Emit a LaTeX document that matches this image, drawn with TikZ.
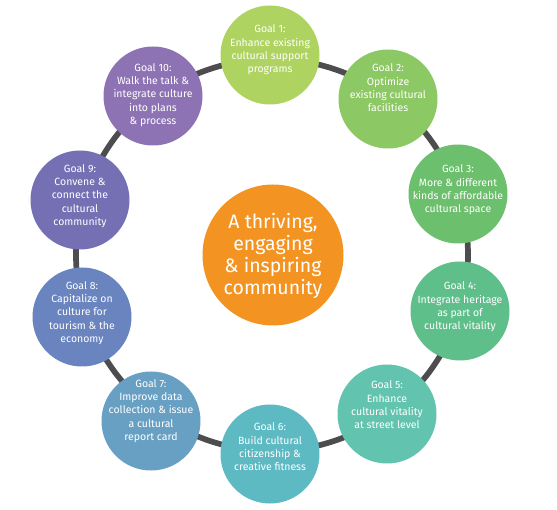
\documentclass[tikz,border=0pt]{standalone}
\usepackage{fontspec}
\setmainfont{Fira Sans}
\definecolor{ringc}{HTML}{4D4D4F}
\definecolor{c1}{HTML}{AED361}
\definecolor{c2}{HTML}{8CC864}
\definecolor{c3}{HTML}{6CBF6C}
\definecolor{c4}{HTML}{5EBF8A}
\definecolor{c5}{HTML}{62C4AE}
\definecolor{c6}{HTML}{5DBAC3}
\definecolor{c7}{HTML}{68A0C4}
\definecolor{c8}{HTML}{6A84C0}
\definecolor{c9}{HTML}{7570B4}
\definecolor{c10}{HTML}{8E73B4}
\definecolor{corange}{HTML}{F39422}
\begin{document}
\begin{tikzpicture}[x=1pt,y=-1pt,
  goal/.style={circle, minimum size=99pt, inner sep=0pt},
  gtext/.style={text=white, align=center, font=\fontsize{10.5}{13.3}\selectfont},
  ringline/.style={draw=ringc, line width=5.7pt}]
\useasboundingbox (0,0) rectangle (557,510);
\coordinate (ring) at (272,255);
\draw[ringline] (ring) circle (196);
\node[goal, fill=c1] (g1) at (270,55) {};
\node[goal, fill=c2] (g2) at (388,99) {};
\node[goal, fill=c3] (g3) at (458,194) {};
\node[goal, fill=c4] (g4) at (460,311) {};
\node[goal, fill=c5] (g5) at (387,414) {};
\node[goal, fill=c6] (g6) at (270,454) {};
\node[goal, fill=c7] (g7) at (151,421) {};
\node[goal, fill=c8] (g8) at (82,317) {};
\node[goal, fill=c9] (g9) at (80,200) {};
\node[goal, fill=c10] (g10) at (153,96) {};
\node[gtext] (t1) at (270,50) {Goal 1:\\Enhance existing\\cultural support\\programs};
\node[gtext] (t2) at (388,88) {Goal 2:\\Optimize\\existing cultural\\facilities};
\node[gtext] (t3) at (458,190) {Goal 3:\\More \& different\\kinds of affordable\\cultural space};
\node[gtext] (t4) at (460,307) {Goal 4:\\Integrate heritage\\as part of\\cultural vitality};
\node[gtext] (t5) at (387,405) {Goal 5:\\Enhance\\cultural vitality\\at street level};
\node[gtext] (t6) at (270,447) {Goal 6:\\Build cultural\\citizenship \&\\creative fitness};
\node[gtext] (t7) at (151,411) {Goal 7:\\Improve data\\collection \& issue\\a cultural\\report card};
\node[gtext] (t8) at (82,313) {Goal 8:\\Capitalize on\\culture for\\tourism \& the\\economy};
\node[gtext] (t9) at (80,196) {Goal 9:\\Convene \&\\connect the\\cultural\\community};
\node[gtext] (t10) at (153,95) {Goal 10:\\Walk the talk \&\\integrate culture\\into plans\\\& process};
\node[circle, fill=corange, minimum size=141pt, inner sep=0pt] (center) at (273,255) {};
\node[text=white, align=center, font=\fontsize{19.5}{21.7}\selectfont] (ct) at (273,256) {A thriving,\\engaging\\\& inspiring\\community};
\end{tikzpicture}
\end{document}
